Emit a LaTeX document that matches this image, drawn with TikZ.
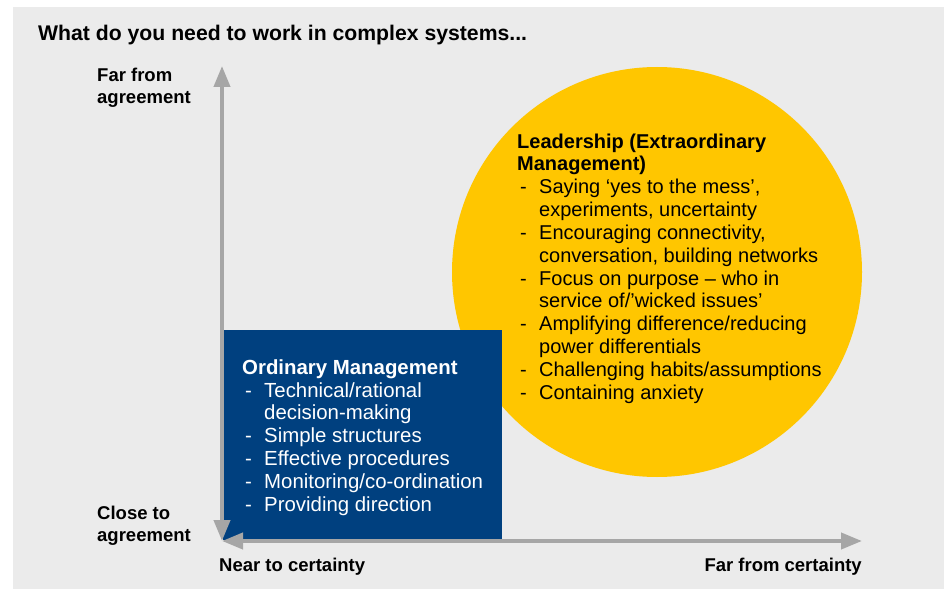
\documentclass[tikz,border=0pt]{standalone}
\usepackage{fontspec}
\setmainfont{Liberation Sans}
\usetikzlibrary{arrows.meta}
\definecolor{panelGray}{HTML}{EBEBEB}
\definecolor{leadYellow}{HTML}{FFC600}
\definecolor{mgmtBlue}{HTML}{00407F}
\definecolor{axisGray}{HTML}{A6A6A6}
\newcommand{\dashitem}{\makebox[22bp][l]{\hspace{3bp}-}}
\newcommand{\contitem}{\hspace*{22bp}}

\begin{document}
\begin{tikzpicture}[
  x=1bp, y=-1bp,
  axis/.style={draw=axisGray, line width=4bp, {Triangle[length=21bp,width=16bp]}-{Triangle[length=21bp,width=16bp]}},
  title/.style={font=\fontsize{21.2bp}{22bp}\selectfont\bfseries, anchor=base west, inner sep=0pt},
  axislabel/.style={font=\fontsize{18.5bp}{22bp}\selectfont\bfseries, align=left, anchor=base west, inner sep=0pt},
  boxtext/.style={font=\fontsize{20bp}{22.8bp}\selectfont, align=left, anchor=base west, inner sep=0pt}
]
\useasboundingbox (0,0) rectangle (944,589);
\fill[panelGray] (13,7) rectangle (944,589);

\node[title] (heading) at (38,41) {What do you need to work in complex systems...};

% quadrants
\fill[leadYellow] (657,272) circle (205);
\fill[mgmtBlue] (223,330) rectangle (502,540);

% axes
\coordinate (origin) at (222,541);
\coordinate (ytop) at (222,66);
\coordinate (xend) at (862,541);
\draw[axis] (origin) -- (ytop);
\draw[axis] (origin) -- (xend);

% labels sit on the baseline of their last line
\node[axislabel] (farAgree) at (97,104) {Far from\\agreement};
\node[axislabel] (closeAgree) at (97,541) {Close to\\agreement};
\node[axislabel] (nearCert) at (219,571) {Near to certainty};
\node[axislabel, anchor=base east] (farCert) at (862,571) {Far from certainty};

\node[boxtext, text=white, font=\fontsize{20.4bp}{22.8bp}\selectfont] (ordinary) at (242,511) {\textbf{Ordinary Management}\\
  \dashitem Technical/rational\\
  \contitem decision-making\\
  \dashitem Simple structures\\
  \dashitem Effective procedures\\
  \dashitem Monitoring/co-ordination\\
  \dashitem Providing direction};

\node[boxtext, text=black] (leadership) at (517,399) {\textbf{Leadership (Extraordinary}\\
  \textbf{Management)}\\
  \dashitem Saying ‘yes to the mess’,\\
  \contitem experiments, uncertainty\\
  \dashitem Encouraging connectivity,\\
  \contitem conversation, building networks\\
  \dashitem Focus on purpose – who in\\
  \contitem service of/’wicked issues’\\
  \dashitem Amplifying difference/reducing\\
  \contitem power differentials\\
  \dashitem Challenging habits/assumptions\\
  \dashitem Containing anxiety};
\end{tikzpicture}
\end{document}
